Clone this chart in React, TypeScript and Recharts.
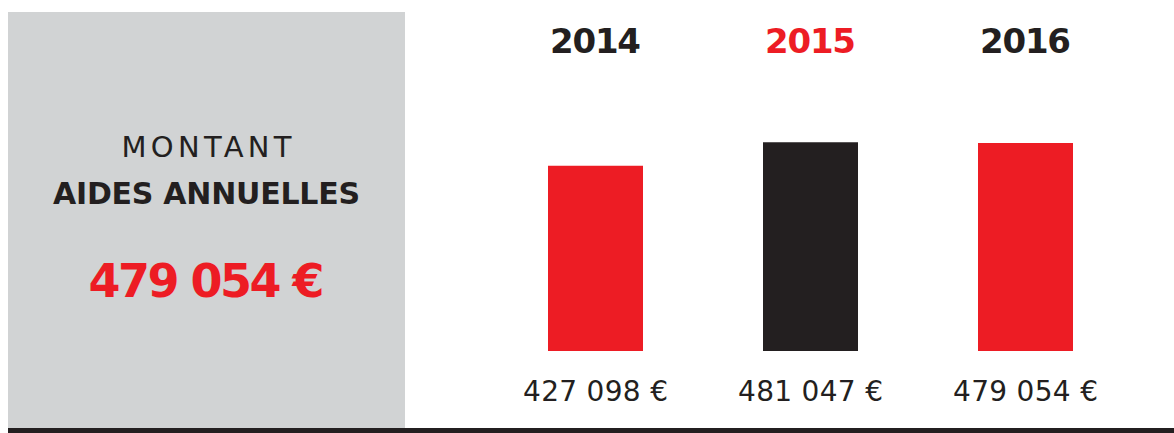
import React from "react";
import { BarChart, Bar, XAxis, YAxis, Cell, LabelList, Customized } from "recharts";

// ---- data ----
const years = ["2014", "2015", "2016"];
const amounts = [427098, 481047, 479054];
const highlightYear = "2015";
const panelTitle = "MONTANT";
const panelSubtitle = "AIDES ANNUELLES";
const panelAmount = 479054;
const yDomain = [0, 500000];

// ---- styles ----
const RED = "#ED1C24";
const DARK = "#231F20";
const GRAY = "#D1D3D4";
const FONT = "'DejaVu Sans', 'Open Sans', sans-serif";

const data = years.map((year, i) => ({ year, amount: amounts[i] }));

const fmt = (v: number) =>
  String(v).replace(/\B(?=(\d{3})+(?!\d))/g, " ") + " €";

const YearTick = (props: any) => {
  const { x, payload } = props;
  const hi = payload.value === highlightYear;
  return (
    <text
      x={x}
      y={53}
      textAnchor="middle"
      fontFamily={FONT}
      fontWeight={700}
      fontSize={34}
      fill={hi ? RED : DARK}
      textLength={91}
      lengthAdjust="spacing"
    >
      {payload.value}
    </text>
  );
};

const ValueLabel = (props: any) => {
  const { x, y, width, height, value } = props;
  return (
    <text
      x={Number(x) + Number(width) / 2}
      y={Number(y) + Number(height) + 50}
      textAnchor="middle"
      fontFamily={FONT}
      fontWeight={400}
      fontSize={28}
      fill={DARK}
      textLength={145}
      lengthAdjust="spacing"
    >
      {fmt(Number(value))}
    </text>
  );
};

const Panel = () => (
  <g>
    <rect x={8} y={12} width={397} height={416} fill={GRAY} />
    <text
      x={206.5}
      y={157}
      textAnchor="middle"
      fontFamily={FONT}
      fontWeight={400}
      fontSize={29}
      fill={DARK}
      textLength={170}
      lengthAdjust="spacing"
    >
      {panelTitle}
    </text>
    <text
      x={206.5}
      y={204}
      textAnchor="middle"
      fontFamily={FONT}
      fontWeight={700}
      fontSize={30}
      fill={DARK}
      textLength={307}
      lengthAdjust="spacing"
    >
      {panelSubtitle}
    </text>
    <text
      x={206.5}
      y={297}
      textAnchor="middle"
      fontFamily={FONT}
      fontWeight={700}
      fontSize={46}
      fill={RED}
      textLength={236}
      lengthAdjust="spacing"
    >
      {fmt(panelAmount)}
    </text>
    <rect x={8} y={428} width={1166} height={5} fill={DARK} />
  </g>
);

export default function App() {
  return (
    <div style={{ position: "absolute", left: 0, top: 0, width: 1174, height: 433, background: "#fff" }}>
      <BarChart
        width={1174}
        height={433}
        data={data}
        margin={{ top: 104, right: 41, bottom: 82, left: 488 }}
      >
        <Customized component={Panel} />
        <XAxis
          dataKey="year"
          orientation="top"
          height={30}
          axisLine={false}
          tickLine={false}
          tick={<YearTick />}
          interval={0}
        />
        <YAxis hide width={0} domain={yDomain} />
        <Bar dataKey="amount" barSize={95} isAnimationActive={false}>
          {data.map((d) => (
            <Cell key={d.year} fill={d.year === highlightYear ? DARK : RED} />
          ))}
          <LabelList dataKey="amount" content={<ValueLabel />} />
        </Bar>
      </BarChart>
    </div>
  );
}
